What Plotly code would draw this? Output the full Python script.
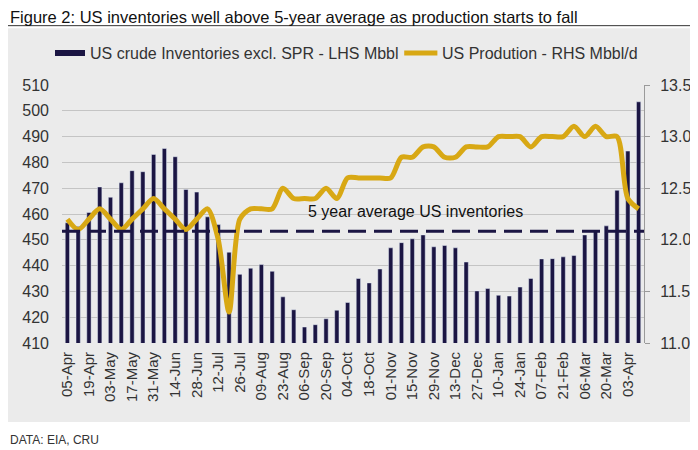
import plotly.graph_objects as go

# weekly EIA data, 05-Apr-2019 .. 10-Apr-2020
weeks = ["05-Apr", "12-Apr", "19-Apr", "26-Apr", "03-May", "10-May", "17-May", "24-May",
         "31-May", "07-Jun", "14-Jun", "21-Jun", "28-Jun", "05-Jul", "12-Jul", "19-Jul",
         "26-Jul", "02-Aug", "09-Aug", "16-Aug", "23-Aug", "30-Aug", "06-Sep", "13-Sep",
         "20-Sep", "27-Sep", "04-Oct", "11-Oct", "18-Oct", "25-Oct", "01-Nov", "08-Nov",
         "15-Nov", "22-Nov", "29-Nov", "06-Dec", "13-Dec", "20-Dec", "27-Dec", "03-Jan",
         "10-Jan", "17-Jan", "24-Jan", "31-Jan", "07-Feb", "14-Feb", "21-Feb", "28-Feb",
         "06-Mar", "13-Mar", "20-Mar", "27-Mar", "03-Apr", "10-Apr"]

# US crude inventories excl. SPR, Mbbl (LHS)
inventories = [456.6, 455.2, 460.6, 470.5, 466.5, 472.1, 476.8, 476.4, 483.1, 485.4,
               482.2, 469.5, 468.5, 458.9, 455.9, 445.2, 436.6, 439.0, 440.4, 437.8,
               427.9, 422.9, 416.2, 417.1, 419.4, 422.7, 425.7, 435.0, 433.3, 438.7,
               446.9, 448.9, 450.4, 451.9, 447.3, 447.8, 446.9, 441.4, 430.2, 431.1,
               428.5, 428.2, 431.7, 435.0, 442.6, 442.7, 443.4, 443.9, 451.9, 453.6,
               455.4, 469.2, 484.4, 503.5]

# US production, Mbbl/d (RHS)
production = [12.2, 12.1, 12.2, 12.3, 12.2, 12.1, 12.2, 12.3, 12.4, 12.3,
              12.2, 12.1, 12.2, 12.3, 12.0, 11.3, 12.2, 12.3, 12.3, 12.3,
              12.5, 12.4, 12.4, 12.4, 12.5, 12.4, 12.6, 12.6, 12.6, 12.6,
              12.6, 12.8, 12.8, 12.9, 12.9, 12.8, 12.8, 12.9, 12.9, 12.9,
              13.0, 13.0, 13.0, 12.9, 13.0, 13.0, 13.0, 13.1, 13.0, 13.1,
              13.0, 13.0, 12.4, 12.3]

five_year_avg = 453.3

navy = "#1b1543"
gold = "#d8a814"
bg = "#ebebeb"
font = "Liberation Sans, Arial, sans-serif"

fig = go.Figure()
fig.add_trace(go.Bar(x=weeks, y=inventories, marker_color=navy, showlegend=False))
fig.add_trace(go.Scatter(x=weeks, y=production, yaxis="y2", mode="lines",
                         line=dict(color=gold, width=5, shape="spline", smoothing=0.8),
                         showlegend=False))

# page body adds 8px offset, so margins are shifted by that
shapes = [
    # grey chart box
    dict(type="rect", xref="paper", yref="paper", x0=-0.0928, x1=1.0859,
         y0=-0.306, y1=1.220, fillcolor=bg, line_width=0, layer="below"),
    # rule under the title
    dict(type="line", xref="paper", yref="paper", x0=-0.0928, x1=1.107,
         y0=1.230, y1=1.230, line=dict(color="#333333", width=1)),
    # legend keys
    dict(type="rect", xref="paper", yref="paper", x0=-0.012, x1=0.0395,
         y0=1.1124, y1=1.1357, fillcolor=navy, line_width=0),
    dict(type="line", xref="paper", yref="paper", x0=0.588, x1=0.645,
         y0=1.124, y1=1.124, line=dict(color=gold, width=5)),
    # 5 year average
    dict(type="line", xref="paper", yref="y", x0=0, x1=1,
         y0=five_year_avg, y1=five_year_avg,
         line=dict(color=navy, width=3, dash="18px,8px")),
]

annotations = [
    dict(text="Figure 2: US inventories well above 5-year average as production starts to fall",
         xref="paper", yref="paper", x=-0.0928, y=1.305, xanchor="left", yanchor="top",
         showarrow=False, font=dict(size=16.5, color="#111111")),
    dict(text="US crude Inventories excl. SPR - LHS Mbbl", xref="paper", yref="paper",
         x=0.0455, y=1.124, xanchor="left", yanchor="middle", showarrow=False,
         font=dict(size=16, color="#333333")),
    dict(text="US Prodution - RHS Mbbl/d", xref="paper", yref="paper",
         x=0.6495, y=1.124, xanchor="left", yanchor="middle", showarrow=False,
         font=dict(size=16, color="#333333")),
    dict(text="5 year average US inventories", xref="paper", yref="y",
         x=0.607, y=461.1, xanchor="center", yanchor="middle", showarrow=False,
         font=dict(size=16, color="#111111")),
    dict(text="DATA: EIA, CRU", xref="paper", yref="paper", x=-0.0928, y=-0.376,
         xanchor="left", yanchor="middle", showarrow=False,
         font=dict(size=12, color="#333333")),
]

fig.update_layout(
    width=698, height=450,
    margin=dict(l=54, r=62, t=77, b=115),
    paper_bgcolor="white", plot_bgcolor=bg,
    bargap=0.6,
    font=dict(family=font, size=16, color="#333333"),
    xaxis=dict(tickvals=weeks[::2], ticktext=weeks[::2], tickangle=-90,
               tickfont=dict(size=15), showgrid=False, ticks="", showline=False,
               ticklabelstandoff=5),
    yaxis=dict(range=[410, 510], dtick=10, showgrid=True, gridcolor="#c4c4c4",
               gridwidth=1, zeroline=False, ticks="", showline=False,
               ticklabelstandoff=12),
    yaxis2=dict(range=[11.0, 13.5], dtick=0.5, tickformat=".1f", overlaying="y",
                side="right", showgrid=False, zeroline=False, showline=True,
                linecolor="#9a9a9a", ticks="outside", ticklen=5, tickcolor="#9a9a9a",
                ticklabelstandoff=7),
    shapes=shapes,
    annotations=annotations,
)

fig.write_html("out.html")
